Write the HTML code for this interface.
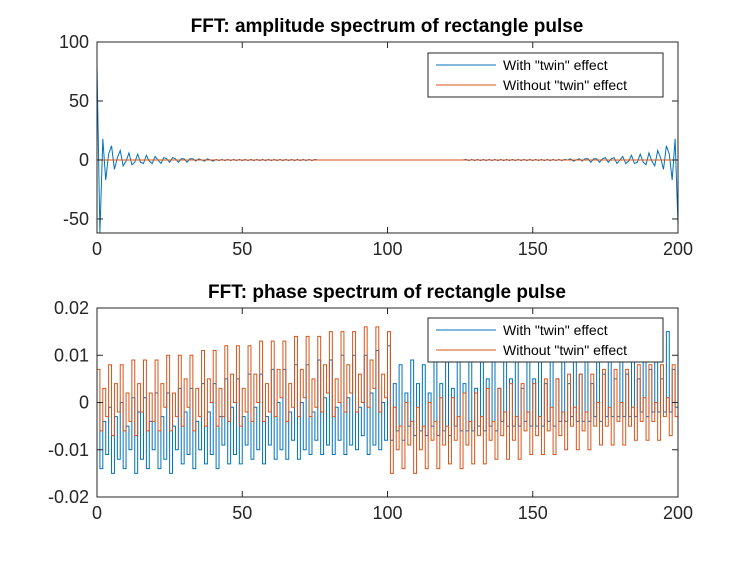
<!DOCTYPE html>
<html><head><meta charset="utf-8"><style>
body{margin:0;background:#fff;}
svg{display:block;font-family:"Liberation Sans",sans-serif;}
</style></head><body>
<svg id="fig" width="748" height="561"></svg>
<script>
const xTicks=[0,50,100,150,200];
const ampTicks=[-50,0,50,100];
const phaseTicks=[-0.02,-0.01,0,0.01,0.02];
const phaseTickLabels=["-0.02","-0.01","0","0.01","0.02"];
const ampHead=[80,-62,18,-17,5,12,-8,2,8,-5,-1,6,-4,-2,5,-2,-3,4,-1,-3,3,0,-3,2,1,-2,2,1,-2,1,1,-2,1,1,-1,1,0,-1,1,0,-1,0.5,-0.5,0.5,-0.5,0.5,-0.5,0.5,-0.5,0.5,-0.5,0.5,-0.5,0.5,-0.5,0.5,-0.5,0.5,-0.5,0.5,-0.5,0.5,-0.5,0.5,-0.5,0.5,-0.5,0.5,-0.5,0.5,-0.5,0.5,-0.5,0.5,-0.5,0.5];
const ampTail=[0.5,-0.5,0.5,-0.5,0.5,-0.5,0.5,-0.5,0.5,-0.5,0.5,-0.5,0.5,-0.5,0.5,-0.5,0.5,-0.5,0.5,-0.5,0.5,-0.5,0.5,-0.5,0.5,-0.5,0.5,-0.5,0.5,-0.5,0.5,-0.5,0.5,-0.5,0.5,0,1,-1,0,1,-1,1,1,-2,1,1,-2,1,2,-2,1,2,-3,0,3,-3,-1,4,-3,-2,5,-2,-4,6,-1,-5,8,2,-8,12,5,-17,18,-55];
const ampMid=new Array(201-ampHead.length-ampTail.length).fill(0);
const ampWith=ampHead.concat(ampMid,ampTail);
const ampWithout=new Array(201).fill(0);
const phBlue=[0,-14,-4,-11,-1,-15,-3,-12,0,-14,-5,-10,1,-15,-2,-12,1,-14,-4,-10,
2,-14,-3,-12,2,-15,-5,-10,3,-13,-2,-11,3,-14,-4,-10,4,-13,-2,-11,
4,-14,-3,-9,5,-13,-1,-11,5,-13,-3,-9,6,-12,-1,-10,6,-13,-3,-9,
7,-12,0,-10,7,-12,-2,-8,8,-12,0,-10,8,-11,-2,-8,9,-11,1,-9,
9,-11,-1,-8,10,-11,1,-9,10,-10,-1,-7,10,-11,2,-9,11,-10,0,-8,12,
-8,4,-6,8,-8,2,-5,9,-7,4,-6,8,-7,2,-5,9,-7,4,-6,9,
-7,3,-5,10,-6,4,-6,9,-6,3,-5,10,-6,5,-5,10,-6,3,-4,11,
-5,5,-5,10,-5,3,-4,11,-5,5,-5,11,-5,4,-4,12,-5,5,-4,11,
-4,4,-3,12,-4,6,-4,12,-4,4,-3,13,-4,6,-3,12,-3,5,-3,13,
-3,6,-3,13,-3,5,-2,14,-3,7,-2,13,-2,5,-2,15,-2,7,-1,14];
const phOrange=[7,-6,3,-3,8,-7,4,-2,8,-6,2,-4,9,-7,4,-2,9,-6,2,-4,
9,-6,4,-1,10,-6,2,-3,10,-5,5,-1,10,-6,3,-3,11,-5,5,0,
11,-5,3,-3,12,-4,6,0,12,-5,3,-2,12,-4,6,0,13,-4,4,-2,
13,-3,7,1,13,-4,4,-1,14,-3,7,1,14,-3,5,-1,14,-2,8,2,
15,-3,5,0,15,-2,8,2,15,-2,6,0,16,-1,9,3,16,-2,6,1,15,
-15,-1,-10,-5,-14,0,-9,-4,-15,-1,-10,-5,-14,0,-8,-4,-14,1,-9,-5,
-13,1,-8,-3,-14,2,-9,-4,-13,2,-7,-3,-13,3,-8,-4,-12,3,-7,-2,
-12,4,-8,-3,-12,4,-6,-2,-11,4,-7,-3,-11,5,-6,-1,-11,5,-7,-2,
-10,6,-5,-1,-10,6,-6,-2,-10,6,-5,0,-9,7,-5,-1,-9,7,-4,0,
-9,7,-5,-1,-8,8,-4,1,-8,8,-4,0,-8,8,-3,1,-7,8,-3,-5];
const phaseScale=0.001;

const NS="http://www.w3.org/2000/svg";
const svg=document.getElementById('fig');
function el(tag,attrs,parent){const e=document.createElementNS(NS,tag);for(const k in attrs)e.setAttribute(k,attrs[k]);(parent||svg).appendChild(e);return e;}

function panel(cfg){
  const g=el('g',{});
  
  
  const L=97,R=678,T=cfg.top,B=cfg.bottom;
  const sx=v=>L+(v-0)/(200-0)*(R-L);
  const sy=v=>B-(v-cfg.ymin)/(cfg.ymax-cfg.ymin)*(B-T);
  const t=el('text',{x:387,y:T-10,'text-anchor':'middle','font-size':19,'font-weight':'bold',fill:'#000'},g);
  t.textContent=cfg.title;
  
  
  cfg.series.forEach(s=>{
    let d='';
    s.values.forEach((v,i)=>{
      const y=sy(v*s.scale).toFixed(2);
      if(i===0){d+='M'+sx(0).toFixed(2)+' '+y;}
      else if(cfg.stairs){d+='H'+sx(i).toFixed(2)+'V'+y;}
      else{d+='L'+sx(i).toFixed(2)+' '+y;}
    });
    const p=el('path',{d:d,fill:'none',stroke:s.color,'stroke-width':1},g);
    
    
  });
  const box=el('rect',{x:L,y:T,width:R-L,height:B-T,fill:'none',stroke:'#262626','stroke-width':1},g);
  
  
  xTicks.forEach(v=>{
    const x=sx(v);
    el('line',{x1:x,y1:B,x2:x,y2:B-6,stroke:'#262626'},g);
    el('line',{x1:x,y1:T,x2:x,y2:T+6,stroke:'#262626'},g);
    const tx=el('text',{x:x,y:B+22,'text-anchor':'middle','font-size':18,fill:'#262626'},g);
    tx.textContent=v;
    
    
  });
  cfg.yTicks.forEach((v,i)=>{
    const y=sy(v);
    el('line',{x1:L,y1:y,x2:L+6,y2:y,stroke:'#262626'},g);
    el('line',{x1:R,y1:y,x2:R-6,y2:y,stroke:'#262626'},g);
    const ty=el('text',{x:L-8,y:y+6,'text-anchor':'end','font-size':18,fill:'#262626'},g);
    ty.textContent=cfg.yLabels[i];
    
    
  });
  const lg=el('g',{},g);
  
  
  el('rect',{x:428,y:cfg.legendTop,width:235,height:44,fill:'#fff',stroke:'#262626'},lg);
  cfg.series.forEach((s,i)=>{
    const y=cfg.legendTop+12+i*20;
    el('line',{x1:436,y1:y,x2:496,y2:y,stroke:s.color,'stroke-width':1},lg);
    const lt=el('text',{x:503,y:y+5,'font-size':14,fill:'#000'},lg);
    lt.textContent=s.label;
    
    
  });
}
panel({name:'amplitude-chart',top:42,bottom:233,ymin:-61.9,ymax:100,stairs:false,title:'FFT: amplitude spectrum of rectangle pulse',
  yTicks:ampTicks,yLabels:ampTicks.map(String),legendTop:53,
  series:[{name:'amplitude-with-twin',values:ampWith,scale:1,color:'#0072BD',label:'With "twin" effect'},
          {name:'amplitude-without-twin',values:ampWithout,scale:1,color:'#D95319',label:'Without "twin" effect'}]});
panel({name:'phase-chart',top:308,bottom:497,ymin:-0.02,ymax:0.02,stairs:true,title:'FFT: phase spectrum of rectangle pulse',
  yTicks:phaseTicks,yLabels:phaseTickLabels,legendTop:318,
  series:[{name:'phase-with-twin',values:phBlue,scale:phaseScale,color:'#0072BD',label:'With "twin" effect'},
          {name:'phase-without-twin',values:phOrange,scale:phaseScale,color:'#D95319',label:'Without "twin" effect'}]});
</script>
</body></html>
